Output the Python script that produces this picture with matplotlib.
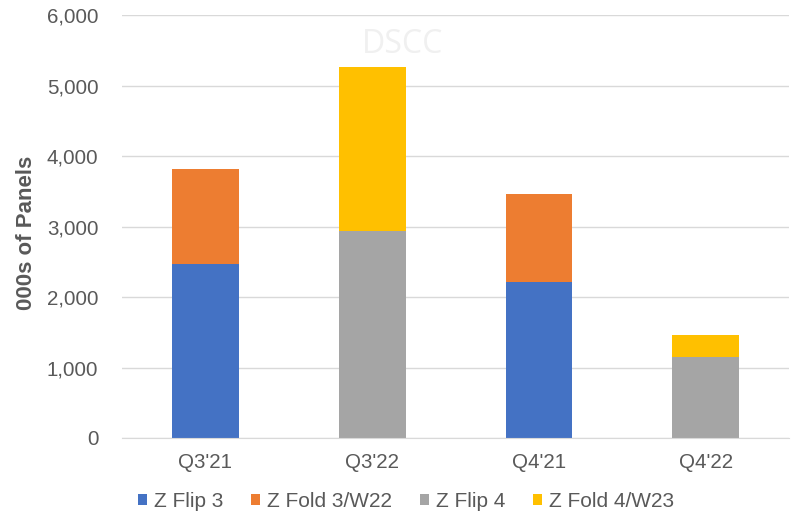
import matplotlib
matplotlib.use("Agg")
import matplotlib.pyplot as plt
import numpy as np

plt.rcParams['font.family'] = ['Liberation Sans', 'DejaVu Sans']

categories = ["Q3'21", "Q3'22", "Q4'21", "Q4'22"]
series_names = ["Z Flip 3", "Z Fold 3/W22", "Z Flip 4", "Z Fold 4/W23"]
z_flip3 = [2465, 0, 2210, 0]
z_fold3 = [1355, 0, 1250, 0]
z_flip4 = [0, 2936, 0, 1150]
z_fold4 = [0, 2331, 0, 305]
colors = ["#4472C4", "#ED7D31", "#A5A5A5", "#FFC000"]
yticks = [0, 1000, 2000, 3000, 4000, 5000, 6000]

fig = plt.figure(figsize=(7.99, 5.2), dpi=100)
ax = fig.add_axes([0.1527, 0.1577, 0.835, 0.8133])

x = np.arange(len(categories))
bottom = np.zeros(len(categories))
for vals, name, c in zip([z_flip3, z_fold3, z_flip4, z_fold4], series_names, colors):
    v = np.array(vals, dtype=float)
    ax.bar(x, v, width=0.4, bottom=bottom, color=c, label=name, zorder=3)
    bottom += v

ax.set_xlim(-0.5, 3.5)
ax.set_ylim(0, 6000)
ax.set_yticks(yticks)
ax.set_yticklabels([f"{t:,}" for t in yticks])
ax.set_xticks(x)
ax.set_xticklabels(categories)
ax.tick_params(axis='both', length=0, labelsize=14.8, colors="#595959")
ax.tick_params(axis='y', pad=17)
ax.tick_params(axis='x', pad=11)
ax.grid(axis='y', color="#D9D9D9", linewidth=1, zorder=0)
for s in ["top", "right", "left"]:
    ax.spines[s].set_visible(False)
ax.spines["bottom"].set_color("#D9D9D9")
ax.spines["bottom"].set_zorder(4)

ax.set_ylabel("000s of Panels", fontsize=16, fontweight="bold", color="#595959")
ax.yaxis.set_label_coords(-0.128, 0.485)

ax.text(0.42, 0.930, "DSCC", transform=ax.transAxes, ha="center", va="center",
        fontsize=23, color="#F0F0F0", fontfamily="Open Sans", zorder=1)

leg = fig.legend(loc="center", bbox_to_anchor=(0.508, 0.035), ncol=4, frameon=False,
                 fontsize=15, handlelength=0.42, handleheight=0.42, handletextpad=0.33,
                 columnspacing=1.35, labelcolor="#595959")

fig.savefig("out.png", dpi=100)
